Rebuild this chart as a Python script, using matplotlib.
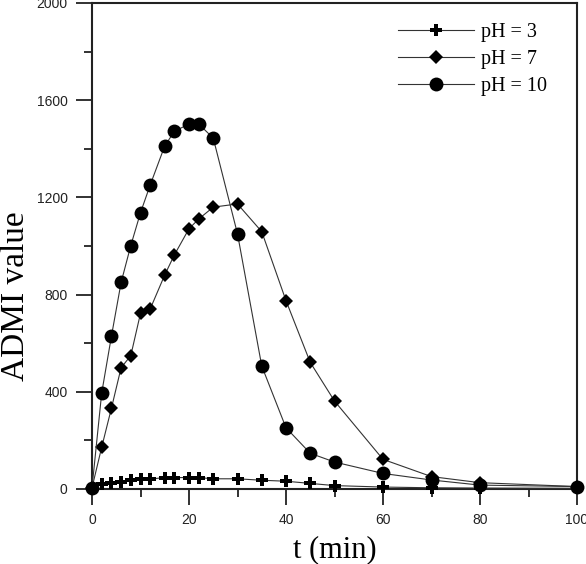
import matplotlib
matplotlib.use("Agg")
import matplotlib.pyplot as plt
from matplotlib.ticker import MultipleLocator

t = [0, 2, 4, 6, 8, 10, 12, 15, 17, 20, 22, 25, 30, 35, 40, 45, 50, 60, 70, 80, 100]
ph3 = [3, 20, 26, 30, 37, 40, 41, 47, 47, 47, 47, 42, 42, 36, 32, 23, 14, 8, 5, 4, 3]
ph7 = [5, 172, 332, 499, 549, 723, 741, 881, 964, 1071, 1111, 1160, 1173, 1059, 775, 521, 362, 122, 51, 26, 10]
ph10 = [5, 395, 628, 850, 1002, 1137, 1251, 1412, 1472, 1502, 1502, 1444, 1050, 506, 252, 147, 111, 64, 37, 16, 10]
labels = ["pH = 3", "pH = 7", "pH = 10"]
xticks = [0, 20, 40, 60, 80, 100]
yticks = [0, 400, 800, 1200, 1600, 2000]

W, H = 586, 564
fig = plt.figure(figsize=(W / 100, H / 100), dpi=100)
ax = fig.add_axes([92 / W, 1 - 489 / H, (577 - 92) / W, (489 - 3) / H])

lc = "#333333"
ax.plot(t, ph3, color=lc, lw=0.8, marker="P", ms=9, mfc="black", mec="black", mew=0, label=labels[0], clip_on=False, zorder=3)
ax.plot(t, ph7, color=lc, lw=0.8, marker="D", ms=7, mfc="black", mec="black", mew=0, label=labels[1], clip_on=False, zorder=3)
ax.plot(t, ph10, color=lc, lw=0.8, marker="o", ms=10, mfc="black", mec="black", mew=0, label=labels[2], clip_on=False, zorder=4)

ax.set_xlim(0, 100)
ax.set_ylim(0, 2000)
ax.set_xticks(xticks)
ax.set_yticks(yticks)
ax.xaxis.set_minor_locator(MultipleLocator(10))
ax.yaxis.set_minor_locator(MultipleLocator(200))
ax.tick_params(which="major", direction="out", length=11.5, width=1.3, color="#222222", top=False, right=False)
ax.tick_params(which="minor", direction="out", length=5.8, width=1.3, color="#222222", top=False, right=False)
ax.tick_params(axis="both", labelsize=10, labelcolor="#222222", pad=6)
for lab in ax.get_xticklabels() + ax.get_yticklabels():
    lab.set_fontfamily("Liberation Sans")
for s in ax.spines.values():
    s.set_linewidth(1.5)
    s.set_color("#222222")

ax.set_xlabel("t (min)", fontfamily="Liberation Serif", fontsize=22, labelpad=6)
ax.set_ylabel("ADMI value", fontfamily="Liberation Serif", fontsize=24)
ax.yaxis.set_label_coords(-0.126, 0.397)

leg = ax.legend(loc="upper left", bbox_to_anchor=(398 / W, 1 - 23 / H), bbox_transform=fig.transFigure,
                frameon=False, prop={"family": "Liberation Serif", "size": 14.5},
                handlelength=3.75, handletextpad=0.35, labelspacing=0.4, borderpad=0, borderaxespad=0)

fig.savefig("out.png", dpi=100)
